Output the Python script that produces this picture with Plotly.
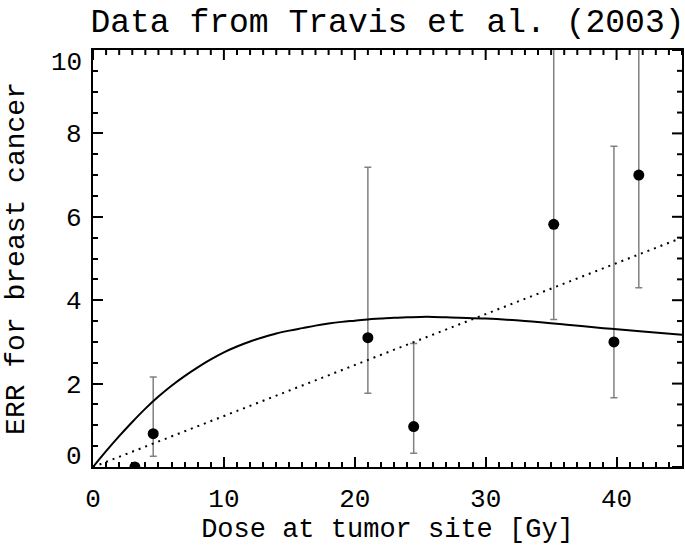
import plotly.graph_objects as go

# measured points (Travis et al. 2003)
dose = [3.2, 4.6, 21.0, 24.5, 35.2, 39.8, 41.7]
err = [0.0, 0.80, 3.10, 0.97, 5.82, 3.00, 7.00]
err_hi = [0.0, 2.16, 7.19, 2.96, 11.0, 7.69, 11.0]
err_lo = [0.0, 0.26, 1.77, 0.33, 3.54, 1.66, 4.30]

# model curves
curve_x = [0, 1, 2, 3, 4, 5, 6, 7, 8, 9, 10, 11, 12, 13, 14, 15, 16, 17, 18, 19, 20,
           21, 22, 23, 24, 25, 26, 27, 28, 30, 33, 36, 39, 42, 45]
curve_y = [0, 0.38, 0.74, 1.08, 1.40, 1.69, 1.95, 2.18, 2.39, 2.58, 2.75, 2.89, 3.01,
           3.11, 3.20, 3.27, 3.33, 3.39, 3.44, 3.48, 3.51, 3.54, 3.56, 3.58, 3.59, 3.60,
           3.60, 3.59, 3.58, 3.56, 3.50, 3.42, 3.33, 3.25, 3.17]
lin_x = [0, 45]
lin_y = [0, 5.5]

x_ticks = [0, 10, 20, 30, 40]
y_ticks = [0, 2, 4, 6, 8, 10]
y_labels = ["0", "2", "4", "6", "8", "10"]
x_minor = list(range(0, 46))
y_minor = [i / 2 for i in range(0, 21)]

FONT = "Liberation Mono"
W, H = 685, 548
ML, MR, MT, MB = 93, 3, 50, 81
PW, PH = W - ML - MR, H - MT - MB

fig = go.Figure()
fig.add_trace(go.Scatter(
    x=dose, y=err, mode="markers",
    marker=dict(color="black", size=11),
    error_y=dict(type="data", symmetric=False,
                 array=[h - v for h, v in zip(err_hi, err)],
                 arrayminus=[v - l for v, l in zip(err, err_lo)],
                 color="#808080", thickness=1.5, width=3.5),
    showlegend=False))
fig.add_trace(go.Scatter(x=curve_x, y=curve_y, mode="lines", line_shape="spline",
                         line=dict(color="black", width=2), showlegend=False))
fig.add_trace(go.Scatter(x=lin_x, y=lin_y, mode="lines",
                         line=dict(color="black", width=2, dash="2px,5px"), showlegend=False))

common = dict(showgrid=False, zeroline=False, showline=True, linecolor="black",
              linewidth=2, mirror=True, ticks="inside", tickcolor="black",
              tickwidth=2, ticklen=10, automargin=False,
              tickfont=dict(family=FONT, size=26, color="black"))
xminor = dict(dtick=1, ticks="inside", ticklen=5, tickwidth=2, tickcolor="black")
yminor = dict(dtick=0.5, ticks="inside", ticklen=5, tickwidth=2, tickcolor="black")

fig.update_layout(
    width=W, height=H,
    margin=dict(l=ML, r=MR, t=MT, b=MB),
    paper_bgcolor="white", plot_bgcolor="white",
    title=dict(text="Data from Travis et al. (2003)", x=0.5, xref="paper", xanchor="center",
               y=0.963, yanchor="middle",
               font=dict(family=FONT, size=33, color="black")),
    xaxis=dict(range=[0, 45], tickvals=x_ticks, minor=xminor, ticklabelstandoff=7,
               title=dict(text="Dose at tumor site [Gy]",
                          font=dict(family=FONT, size=27, color="black"), standoff=4),
               **common),
    yaxis=dict(range=[0, 10], tickvals=y_ticks, minor=yminor, showticklabels=False,
               title=dict(text="ERR for breast cancer",
                          font=dict(family=FONT, size=28, color="black"), standoff=58),
               **common),
)

# ticks on the top and right frame edges
for v in x_minor:
    ln = (10 if v in x_ticks else 5) / PH
    fig.add_shape(type="line", xref="x", yref="paper", x0=v, x1=v, y0=1, y1=1 - ln,
                  line=dict(color="black", width=2))
for v in y_minor:
    ln = (10 if v in y_ticks else 5) / PW
    fig.add_shape(type="line", yref="y", xref="paper", y0=v, y1=v, x0=1, x1=1 - ln,
                  line=dict(color="black", width=2))

# y tick labels: end labels sit inside the frame like in the original
for v, lab in zip(y_ticks, y_labels):
    shift = 10 if v == y_ticks[0] else (-13 if v == y_ticks[-1] else -2)
    fig.add_annotation(x=0, xref="paper", y=v, yref="y", text=lab, showarrow=False,
                       xanchor="right", yanchor="middle", xshift=-9, yshift=shift,
                       font=dict(family=FONT, size=26, color="black"))

# the default page margin would shift the figure by 8px
fig.write_html("out.html", config={"displayModeBar": False},
               post_script="document.body.style.margin='0px';")
